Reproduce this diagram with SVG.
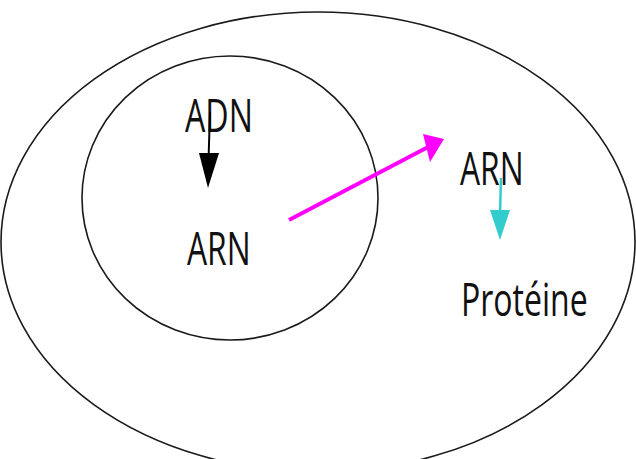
<svg xmlns="http://www.w3.org/2000/svg" width="636" height="459" viewBox="0 0 636 459">
<style>
.shape{fill:none;stroke:#1a1a1a;stroke-width:1.6}
.lbl{font-family:"Open Sans","Liberation Sans",sans-serif;font-size:46px;fill:#111}
</style>
<rect width="636" height="459" fill="#fff"/>
<g id="cell"><ellipse class="shape" cx="318" cy="242" rx="317" ry="230"/></g>
<g id="nucleus"><ellipse class="shape" cx="230" cy="198" rx="148" ry="142"/></g>
<g id="adn"><text class="lbl" transform="translate(185,132) scale(0.7,1)" x="0" y="0" textLength="97" lengthAdjust="spacingAndGlyphs">ADN</text></g>
<g id="arn-noyau"><text class="lbl" transform="translate(187,265) scale(0.7,1)" x="0" y="0" textLength="91" lengthAdjust="spacingAndGlyphs">ARN</text></g>
<g id="arn-cyto"><text class="lbl" transform="translate(460,185) scale(0.7,1)" x="0" y="0" textLength="91" lengthAdjust="spacingAndGlyphs">ARN</text></g>
<g id="proteine"><text class="lbl" transform="translate(461,316) scale(0.7,1)" x="0" y="0" textLength="181" lengthAdjust="spacingAndGlyphs">Protéine</text></g>
<g id="connectors">
<line x1="210" y1="112" x2="208.5" y2="160" stroke="#000" stroke-width="2"/>
<polygon points="199,153 219,153 208,188" fill="#000"/>
<line x1="289" y1="220" x2="430" y2="146" stroke="#ff00ff" stroke-width="4"/>
<polygon points="423,134 444,139 430,162" fill="#ff00ff"/>
<line x1="501" y1="178" x2="500" y2="214" stroke="#33cccc" stroke-width="2.5"/>
<polygon points="490,210 510,210 500,240" fill="#33cccc"/>
</g>
</svg>
